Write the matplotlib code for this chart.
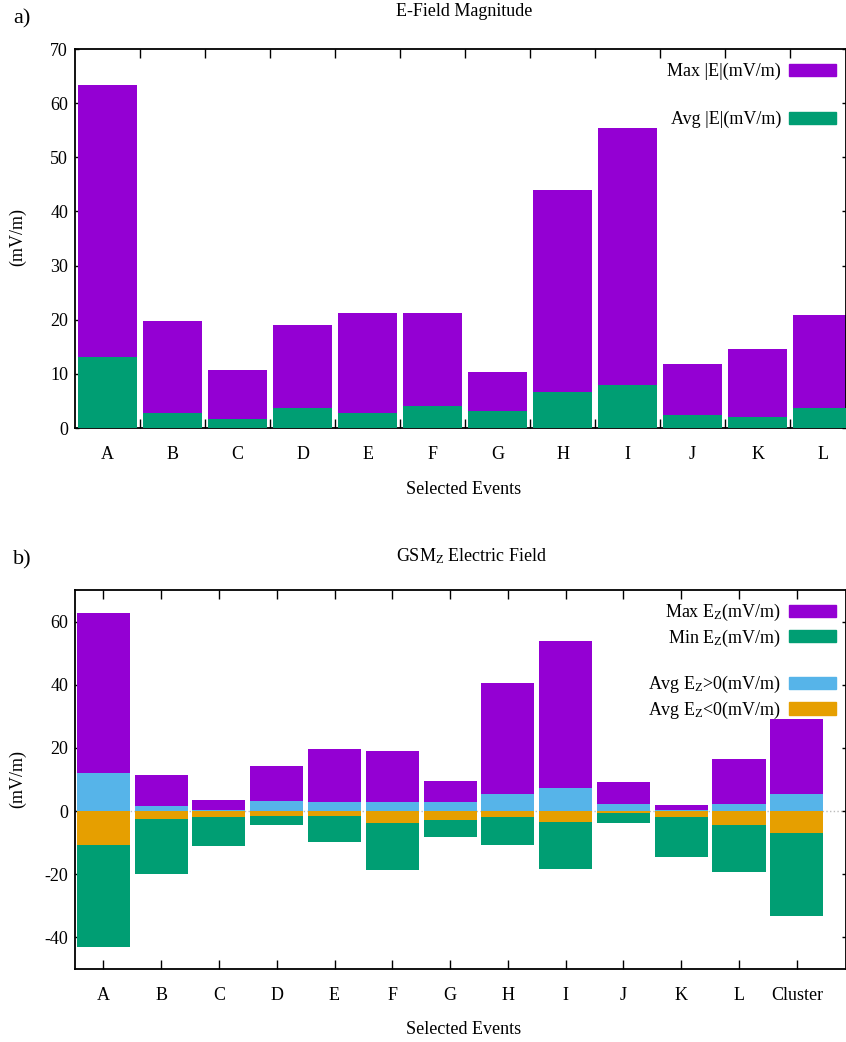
import numpy as np
import matplotlib
matplotlib.use("Agg")
import matplotlib.pyplot as plt
from matplotlib.patches import Patch

plt.rcParams["font.family"] = ["Liberation Serif", "DejaVu Serif"]
plt.rcParams["font.size"] = 13
plt.rcParams["mathtext.fontset"] = "custom"
plt.rcParams["mathtext.rm"] = "Liberation Serif"
plt.rcParams["mathtext.it"] = "Liberation Serif:italic"
plt.rcParams["axes.unicode_minus"] = False

# panel a: field magnitude per event
events_a = ["A", "B", "C", "D", "E", "F", "G", "H", "I", "J", "K", "L"]
max_e = [63.3, 19.8, 10.7, 19.0, 21.2, 21.2, 10.3, 44.0, 55.4, 11.8, 14.5, 20.9]
avg_e = [13.1, 2.8, 1.6, 3.75, 2.8, 4.1, 3.1, 6.7, 7.9, 2.4, 2.0, 3.7]

# panel b: GSM Z component per event, plus the Cluster summary
events_b = events_a + ["Cluster"]
max_ez = [62.8, 11.4, 3.4, 14.3, 19.7, 18.95, 9.4, 40.4, 53.9, 9.1, 1.8, 16.5, 29.1]
min_ez = [-43.0, -19.9, -10.9, -4.4, -9.8, -18.8, -8.1, -10.8, -18.2, -3.8, -14.4, -19.4, -33.3]
avg_pos = [11.9, 1.5, 0.5, 3.1, 2.8, 2.8, 2.8, 5.4, 7.2, 2.2, 0.5, 2.4, 5.3]
avg_neg = [-10.6, -2.6, -1.8, -1.5, -1.4, -3.7, -2.85, -1.8, -3.6, -0.7, -2.0, -4.5, -6.8]

PURPLE = "#9400d3"
GREEN = "#009e73"
BLUE = "#56b4e9"
ORANGE = "#e69f00"
BAR_W = 0.92

W, H = 846, 1042
fig = plt.figure(figsize=(W / 100, H / 100), dpi=100)


def add_axes_px(left, top, right, bottom):
    return fig.add_axes([left / W, 1 - bottom / H, (right - left) / W, (bottom - top) / H])


def style_axes(ax):
    for sp in ax.spines.values():
        sp.set_linewidth(1.3)
    ax.tick_params(axis="y", direction="in", length=3.2, width=1.0, pad=5,
                   right=True, labelsize=13)


def add_legend(ax, handles, labels, top_px, spacing):
    ax.legend(handles, labels, loc="upper right",
              bbox_to_anchor=(1 - 10 / 771, 1 - top_px / 379),
              frameon=False, markerfirst=False, borderpad=0, borderaxespad=0,
              handlelength=2.6, handleheight=0.66, handletextpad=0.45,
              labelspacing=spacing, fontsize=13)


# ---- a) E-field magnitude ----
ax_a = add_axes_px(75, 49, 846, 428)
style_axes(ax_a)
xa = np.arange(len(events_a))
ax_a.bar(xa, max_e, width=BAR_W, color=PURPLE, zorder=2)
ax_a.bar(xa, avg_e, width=BAR_W, color=GREEN, zorder=3)
ax_a.set_xlim(-0.5, 11.36)
ax_a.set_ylim(0, 70)
ax_a.set_yticks(np.arange(0, 71, 10))
ax_a.set_xticks(xa, events_a)
ax_a.set_xticks(np.arange(0.5, 11, 1), minor=True)
ax_a.tick_params(axis="x", which="major", length=0, pad=13, labelsize=13)
ax_a.tick_params(axis="x", which="minor", direction="in", length=6.5, width=1.0, top=True)

add_legend(ax_a,
           [Patch(color=PURPLE), Patch(facecolor="none", edgecolor="none"), Patch(color=GREEN)],
           ["Max |E|(mV/m)", " ", "Avg |E|(mV/m)"], 14, 0.37)

fig.text(13 / W, 1 - 19 / H, "a)", fontsize=16, ha="left", va="center")
fig.text(464 / W, 1 - 12 / H, "E-Field Magnitude", fontsize=13, ha="center", va="center")
fig.text(464 / W, 1 - 489 / H, "Selected Events", fontsize=13, ha="center", va="center")
fig.text(18 / W, 1 - 237 / H, "(mV/m)", fontsize=13, rotation=90, ha="center", va="center")

# ---- b) GSM Z electric field ----
ax_b = add_axes_px(75, 590, 846, 969)
style_axes(ax_b)
xb = np.arange(len(events_b))
ax_b.axhline(0, color="#bbbbbb", ls=":", lw=1.0, zorder=0.5)
ax_b.bar(xb, max_ez, width=BAR_W, color=PURPLE, zorder=2)
ax_b.bar(xb, min_ez, width=BAR_W, color=GREEN, zorder=2)
ax_b.bar(xb, avg_pos, width=BAR_W, color=BLUE, zorder=3)
ax_b.bar(xb, avg_neg, width=BAR_W, color=ORANGE, zorder=3)
ax_b.set_xlim(-0.49, 12.85)
ax_b.set_ylim(-50, 70)
ax_b.set_yticks(np.arange(-40, 61, 20))
ax_b.set_xticks(xb, events_b)
ax_b.tick_params(axis="x", direction="in", length=6.5, width=1.0, top=True, pad=13, labelsize=13)

add_legend(ax_b,
           [Patch(color=PURPLE), Patch(color=GREEN), Patch(facecolor="none", edgecolor="none"),
            Patch(color=BLUE), Patch(color=ORANGE)],
           [r"Max E$_\mathrm{Z}$(mV/m)", r"Min E$_\mathrm{Z}$(mV/m)", " ",
            r"Avg E$_\mathrm{Z}$>0(mV/m)", r"Avg E$_\mathrm{Z}$<0(mV/m)"], 12, 0.24)

fig.text(13 / W, 1 - 560 / H, "b)", fontsize=16, ha="left", va="center")
fig.text(472 / W, 1 - 556 / H, r"GSM$_\mathrm{Z}$ Electric Field", fontsize=13, ha="center", va="center")
fig.text(464 / W, 1 - 1030 / H, "Selected Events", fontsize=13, ha="center", va="center")
fig.text(18 / W, 1 - 779 / H, "(mV/m)", fontsize=13, rotation=90, ha="center", va="center")

fig.savefig("out.png", dpi=100)
